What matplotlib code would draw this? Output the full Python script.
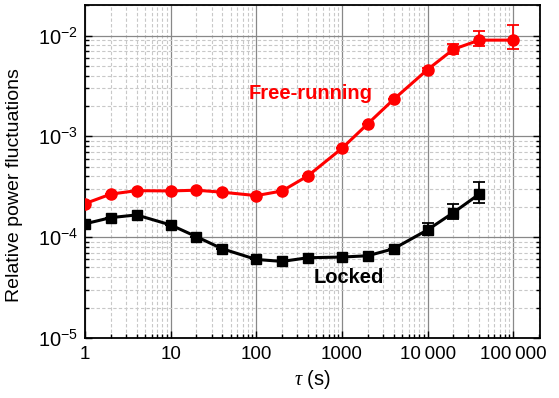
import matplotlib
matplotlib.use("Agg")
import matplotlib.pyplot as plt
from matplotlib.ticker import FixedLocator, FixedFormatter, LogLocator, NullFormatter

plt.rcParams['font.family'] = ['Liberation Sans', 'DejaVu Sans']
plt.rcParams['mathtext.fontset'] = 'custom'
plt.rcParams['mathtext.rm'] = 'Liberation Sans'
plt.rcParams['mathtext.it'] = 'Liberation Serif:italic'

# averaging times (s)
tau_free = [1, 2, 4, 10, 20, 40, 100, 200, 400, 1000, 2000, 4000, 10000, 20000, 40000, 100000]
free = [2.15e-4, 2.67e-4, 2.89e-4, 2.87e-4, 2.92e-4, 2.79e-4, 2.58e-4, 2.87e-4,
        4.05e-4, 7.6e-4, 1.33e-3, 2.32e-3, 4.6e-3, 7.3e-3, 9.0e-3, 9.0e-3]
free_lo = [0, 0, 0, 0, 0, 0, 0, 0, 0, 0, 0, 0, 0.2e-3, 0.8e-3, 1.1e-3, 1.7e-3]
free_hi = [0, 0, 0, 0, 0, 0, 0, 0, 0, 0, 0, 0, 0.2e-3, 1.0e-3, 2.0e-3, 3.6e-3]

tau_lock = [1, 2, 4, 10, 20, 40, 100, 200, 400, 1000, 2000, 4000, 10000, 20000, 40000]
locked = [1.355e-4, 1.56e-4, 1.66e-4, 1.32e-4, 1.01e-4, 7.66e-5, 6.0e-5, 5.74e-5,
          6.24e-5, 6.34e-5, 6.53e-5, 7.66e-5, 1.18e-4, 1.75e-4, 2.67e-4]
locked_lo = [0, 0, 0, 0, 0, 0, 0, 0, 0, 0, 0, 0, 0.12e-4, 0.23e-4, 0.47e-4]
locked_hi = [0, 0, 0, 0, 0, 0, 0, 0, 0, 0, 0, 0, 0.2e-4, 0.37e-4, 0.88e-4]

x_ticks = [1, 10, 100, 1000, 10000, 100000]
x_labels = ["1", "10", "100", "1000", "10\u2009000", "100\u2009000"]

fig = plt.figure(figsize=(5.59, 3.98), dpi=100)
ax = fig.add_axes([0.152, 0.151, 0.814, 0.836])
ax.set_xscale("log")
ax.set_yscale("log")

ax.errorbar(tau_free, free, yerr=[free_lo, free_hi], color="#ff0000", marker="o",
            ms=8, lw=2.2, capsize=4, elinewidth=1.3, capthick=1.3, zorder=3)
ax.errorbar(tau_lock, locked, yerr=[locked_lo, locked_hi], color="black", marker="s",
            ms=7, lw=2.2, capsize=4, elinewidth=1.3, capthick=1.3, zorder=3)

ax.text(425, 2.68e-3, "Free-running", color="#ff0000", fontsize=14.5,
        fontweight="bold", ha="center", va="center")
ax.text(1214, 3.95e-5, "Locked", color="black", fontsize=14.5,
        fontweight="bold", ha="center", va="center")

ax.set_xlim(1, 2.05e5)
ax.set_ylim(1e-5, 2e-2)

ax.xaxis.set_major_locator(FixedLocator(x_ticks))
ax.xaxis.set_major_formatter(FixedFormatter(x_labels))
ax.xaxis.set_minor_locator(LogLocator(base=10, subs=range(2, 10), numticks=20))
ax.xaxis.set_minor_formatter(NullFormatter())
ax.yaxis.set_major_locator(FixedLocator([1e-5, 1e-4, 1e-3, 1e-2]))
ax.yaxis.set_minor_locator(LogLocator(base=10, subs=range(2, 10), numticks=20))
ax.yaxis.set_minor_formatter(NullFormatter())

ax.grid(True, which="major", color="#888888", lw=0.9, ls="-")
ax.grid(True, which="minor", color="#c8c8c8", lw=0.8, ls=(0, (3, 2)))
ax.set_axisbelow(True)

ax.tick_params(which="both", direction="in", top=False, right=True, width=1)
ax.tick_params(axis="x", labelsize=13.5, pad=6)
ax.tick_params(axis="y", labelsize=14.5, pad=5)
ax.tick_params(which="major", length=5)
ax.tick_params(which="minor", length=3)
for s in ax.spines.values():
    s.set_linewidth(1.3)

ax.set_xlabel(r"$\mathit{\tau}$ (s)", fontsize=14.5)
ax.set_ylabel("Relative power fluctuations", fontsize=14)
ax.xaxis.set_label_coords(0.5, -0.09)
ax.yaxis.set_label_coords(-0.137, 0.46)

fig.savefig("out.png", dpi=100)
